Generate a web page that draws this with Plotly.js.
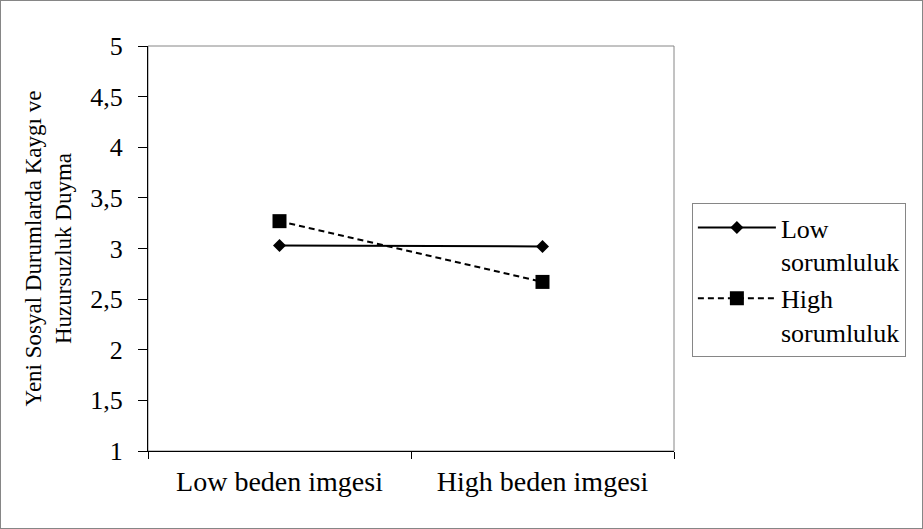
<!DOCTYPE html>
<html>
<head>
<meta charset="utf-8">
<script src="https://cdn.plot.ly/plotly-3.0.1.min.js"></script>
<style>
  html, body { margin: 0; padding: 0; background: #fff; }
  #wrap { position: relative; width: 923px; height: 529px; }
  #chart { width: 923px; height: 529px; }
  #frame { position: absolute; left: 0; top: 0; width: 923px; height: 529px;
           box-sizing: border-box; border: 1px solid #868686; pointer-events: none; }
</style>
</head>
<body>
<div id="wrap">
  <div id="chart"></div>
  <div id="frame"></div>
</div>
<script>
const categories = ["Low beden imgesi", "High beden imgesi"];
const seriesNames = ["Low<br>sorumluluk", "High<br>sorumluluk"];
const lowSorumluluk = [3.03, 3.02];
const highSorumluluk = [3.27, 2.67];
const yTitle = "Yeni Sosyal Durumlarda Kaygı ve<br>Huzursuzluk Duyma";

const FONT = "Liberation Serif";

const traces = [
  {
    x: categories, y: lowSorumluluk, name: seriesNames[0],
    type: "scatter", mode: "lines+markers",
    line: { color: "#000", width: 2, dash: "solid" },
    marker: { symbol: "diamond", size: 10, color: "#000" }
  },
  {
    x: categories, y: highSorumluluk, name: seriesNames[1],
    type: "scatter", mode: "lines+markers",
    line: { color: "#000", width: 2, dash: "6px,4px" },
    marker: { symbol: "square", size: 14, color: "#000" }
  }
];

const layout = {
  width: 923, height: 529,
  margin: { l: 148, r: 249, t: 46, b: 78, autoexpand: false },
  paper_bgcolor: "#fff", plot_bgcolor: "#fff",
  separators: ", ",
  font: { family: FONT, size: 26, color: "#000" },
  showlegend: true,
  legend: {
    x: 1.034, xanchor: "left", y: 0.612, yanchor: "top",
    bgcolor: "#fff", bordercolor: "#868686", borderwidth: 1,
    font: { family: FONT, size: 26, color: "#000" },
    itemwidth: 78, valign: "top",
    traceorder: "normal", tracegroupgap: 0
  },
  xaxis: {
    type: "category", range: [-0.5, 1.5], showgrid: false, zeroline: false,
    showline: true, linecolor: "#000", linewidth: 1,
    ticks: "outside", tickson: "boundaries", ticklen: 7, tickcolor: "#000",
    ticklabelstandoff: 5,
    tickfont: { family: FONT, size: 28, color: "#000" },
    fixedrange: true
  },
  yaxis: {
    range: [1, 5], dtick: 0.5, tick0: 1, showgrid: false, zeroline: false,
    showline: true, linecolor: "#000", linewidth: 1,
    ticks: "outside", ticklen: 9, tickcolor: "#000",
    ticklabelstandoff: 10,
    tickfont: { family: FONT, size: 26, color: "#000" },
    title: { text: yTitle, font: { family: FONT, size: 23, color: "#000" }, standoff: 12 },
    fixedrange: true
  },
  shapes: [
    { type: "rect", xref: "paper", yref: "paper", x0: 0, x1: 1, y0: 0, y1: 1,
      line: { color: "#868686", width: 1 }, layer: "below" }
  ]
};

Plotly.newPlot("chart", traces, layout, { displayModeBar: false, staticPlot: true });
</script>
</body>
</html>
